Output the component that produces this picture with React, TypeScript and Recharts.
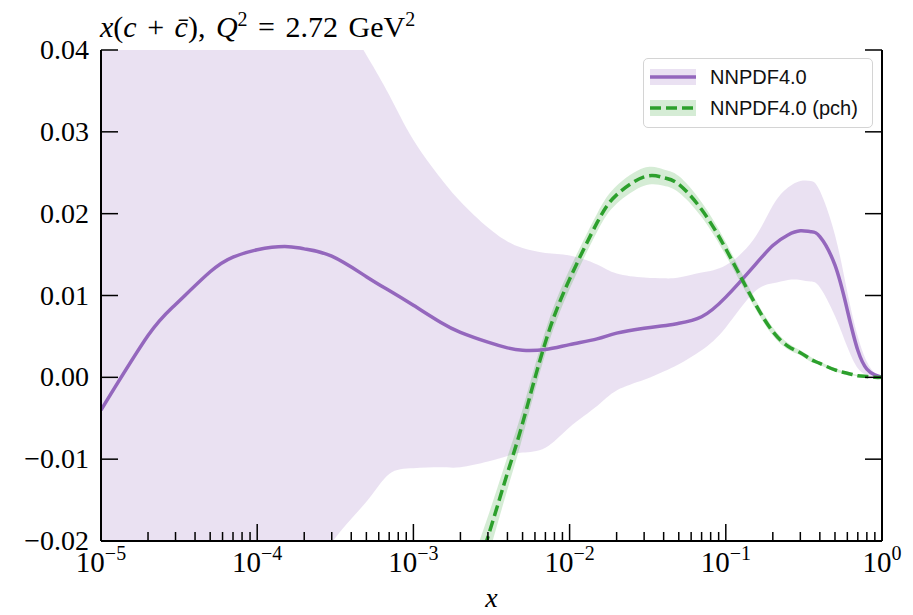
import { ComposedChart, Area, Line, XAxis, YAxis, Legend } from 'recharts';

// x grid shared by every curve (log axis)
const X_VALUES = [
  1e-5, 2e-5, 3e-5, 5e-5, 7e-5,
  1e-4, 1.5e-4, 2e-4, 3e-4, 5e-4, 7e-4,
  1e-3, 1.5e-3, 2e-3, 3e-3, 4e-3, 5e-3, 7e-3,
  1e-2, 1.5e-2, 2e-2, 3e-2, 4e-2, 5e-2, 7e-2,
  0.1, 0.15, 0.2, 0.25, 0.3, 0.35, 0.4, 0.5, 0.6, 0.7, 0.8, 0.9, 1,
];

// NNPDF4.0 central value and band
const PURPLE_CENTRAL = [
  -0.004, 0.0051, 0.0089, 0.0129, 0.0147,
  0.0156, 0.016, 0.0157, 0.0148, 0.0123, 0.0106,
  0.0088, 0.0067, 0.0055, 0.0043, 0.0036, 0.0033, 0.0034,
  0.004, 0.0047, 0.0054, 0.006, 0.0063, 0.0066, 0.0074,
  0.0098, 0.0135, 0.0161, 0.0174, 0.0179, 0.0178, 0.0172, 0.0137, 0.0082, 0.0033, 0.001, 0.0003, 0,
];
const PURPLE_HIGH = [
  0.095, 0.086, 0.08, 0.072, 0.067,
  0.062, 0.056, 0.052, 0.0465, 0.0394, 0.0345,
  0.029, 0.0243, 0.0215, 0.0183, 0.0166, 0.0158, 0.0152,
  0.0149, 0.0138, 0.0127, 0.0122, 0.0121, 0.0122, 0.0128,
  0.0137, 0.0168, 0.021, 0.0232, 0.024, 0.024, 0.0228, 0.0174, 0.0104, 0.005, 0.0019, 0.0005, 0,
];
const PURPLE_LOW = [
  -0.066, -0.058, -0.053, -0.046, -0.041,
  -0.036, -0.03, -0.026, -0.0202, -0.0152, -0.0118,
  -0.0111, -0.011, -0.011, -0.0103, -0.0096, -0.0092, -0.0086,
  -0.0061, -0.0035, -0.0016, -0.0003, 0.0007, 0.0016, 0.0033,
  0.0061, 0.0103, 0.0115, 0.0119, 0.0119, 0.0117, 0.011, 0.0075, 0.0037, 0.0011, 0.0003, 0.0001, 0,
];

// NNPDF4.0 (pch) central value and band
const GREEN_CENTRAL = [
  null, null, null, null, null,
  null, null, null, null, null, null,
  null, null, -0.03, -0.0195, -0.0117, -0.0056, 0.0043,
  0.012, 0.0189, 0.0223, 0.0245, 0.0244, 0.0236, 0.0205,
  0.0157, 0.0094, 0.0056, 0.0038, 0.003, 0.0022, 0.0017, 0.0009, 0.0005, 0.0002, 0.0001, 0, 0,
];
const GREEN_HIGH = [
  null, null, null, null, null,
  null, null, null, null, null, null,
  null, null, -0.0265, -0.017, -0.0097, -0.0039, 0.0057,
  0.0132, 0.02, 0.0234, 0.0256, 0.0254, 0.0246, 0.0214,
  0.0165, 0.01, 0.0061, 0.0042, 0.0033, 0.0025, 0.0019, 0.0011, 0.0006, 0.0003, 0.0001, 0, 0,
];
const GREEN_LOW = [
  null, null, null, null, null,
  null, null, null, null, null, null,
  null, null, -0.0335, -0.022, -0.0137, -0.0073, 0.0029,
  0.0108, 0.0178, 0.0212, 0.0234, 0.0234, 0.0226, 0.0196,
  0.0149, 0.0088, 0.0051, 0.0034, 0.0027, 0.0019, 0.0015, 0.0007, 0.0004, 0.0001, 0.0001, 0, 0,
];

const DECADES = [1e-5, 1e-4, 1e-3, 1e-2, 1e-1, 1];
const MINOR_STEPS = [2, 3, 4, 5, 6, 7, 8, 9];
const Y_TICKS = [-0.02, -0.01, 0, 0.01, 0.02, 0.03, 0.04];

const PURPLE = '#9467bd';
const GREEN = '#2ca02c';
const SERIF = '"Liberation Serif", "DejaVu Serif", serif';
const SANS = '"Liberation Sans", Arial, sans-serif';

const mainRows = X_VALUES.map((x, i) => ({
  x,
  mid: PURPLE_CENTRAL[i],
  band: [PURPLE_LOW[i], PURPLE_HIGH[i]],
}));

const pchRows = X_VALUES.map((x, i) => ({
  x,
  mid: GREEN_CENTRAL[i],
  band: [GREEN_LOW[i], GREEN_HIGH[i]],
})).filter((r) => r.mid !== null);

const xTicks = DECADES.flatMap((d, i) =>
  i < DECADES.length - 1 ? [d, ...MINOR_STEPS.map((m) => d * m)] : [d]
);

const isDecade = (v: number) => {
  const l = Math.log10(v);
  return Math.abs(l - Math.round(l)) < 1e-6;
};

const fmtY = (v: number) => {
  const s = Math.abs(v).toFixed(2);
  return v < -1e-9 ? `\u2212${s}` : s;
};

const XTick = (props: any) => {
  const { x, y, payload } = props;
  const v = payload.value;
  const major = isDecade(v);
  const exp = Math.round(Math.log10(v));
  return (
    <g>
      <line x1={x} x2={x} y1={y} y2={y - (major ? 17 : 9)} stroke="#000" strokeWidth={1.5} />
      {major && (
        <text x={x} y={y + 31} textAnchor="middle" fontFamily={SERIF} fontSize={29} fill="#000">
          10
          <tspan dy={-12} fontSize={20}>
            {exp === 0 ? '0' : `\u2212${-exp}`}
          </tspan>
        </text>
      )}
    </g>
  );
};

const YTickLeft = (props: any) => {
  const { x, y, payload } = props;
  return (
    <g>
      <line x1={x} x2={x + 17} y1={y} y2={y} stroke="#000" strokeWidth={1.5} />
      <text x={x - 12} y={y + 9} textAnchor="end" fontFamily={SERIF} fontSize={28} fill="#000">
        {fmtY(payload.value)}
      </text>
    </g>
  );
};

const YTickRight = (props: any) => {
  const { x, y } = props;
  return <line x1={x} x2={x - 17} y1={y} y2={y} stroke="#000" strokeWidth={1.5} />;
};

const LegendHandle = ({ color, dashed }: { color: string; dashed?: boolean }) => (
  <svg width={46} height={16} style={{ display: 'block' }}>
    <rect x={0} y={0} width={46} height={16} fill={color} fillOpacity={0.2} />
    <line
      x1={0}
      x2={46}
      y1={8}
      y2={8}
      stroke={color}
      strokeWidth={3.5}
      strokeDasharray={dashed ? '11 5' : undefined}
    />
  </svg>
);

const LegendBox = () => (
  <div
    style={{
      width: 230,
      height: 70,
      boxSizing: 'border-box',
      border: '1.5px solid #d4d4d4',
      borderRadius: 5,
      background: 'rgba(255,255,255,0.85)',
      fontFamily: SANS,
      fontSize: 20,
      color: '#111',
      padding: '2px 0 0 6px',
    }}
  >
    {[
      { label: 'NNPDF4.0', color: PURPLE, dashed: false },
      { label: 'NNPDF4.0 (pch)', color: GREEN, dashed: true },
    ].map((e) => (
      <div key={e.label} style={{ display: 'flex', alignItems: 'center', height: 31 }}>
        <LegendHandle color={e.color} dashed={e.dashed} />
        <span style={{ marginLeft: 14, lineHeight: '20px' }}>{e.label}</span>
      </div>
    ))}
  </div>
);

export default function App() {
  return (
    <div style={{ position: 'absolute', left: 0, top: 0, width: 913, height: 615, background: '#fff' }}>
      <ComposedChart width={913} height={615} margin={{ top: 50, right: 0, bottom: 0, left: 0 }}>
        <XAxis
          dataKey="x"
          type="number"
          scale="log"
          domain={[1e-5, 1]}
          allowDataOverflow
          ticks={xTicks}
          interval={0}
          height={74}
          tickSize={0}
          tickMargin={0}
          tickLine={false}
          tick={XTick}
          axisLine={{ stroke: '#000', strokeWidth: 2 }}
          label={{
            value: 'x',
            position: 'insideBottom',
            offset: 8,
            style: { fontFamily: SERIF, fontStyle: 'italic', fontSize: 28, fill: '#000' },
          }}
        />
        <XAxis
          xAxisId="top"
          orientation="top"
          type="number"
          domain={[0, 1]}
          height={0}
          tick={false}
          tickLine={false}
          axisLine={{ stroke: '#000', strokeWidth: 2 }}
        />
        <YAxis
          yAxisId="l"
          type="number"
          domain={[-0.02, 0.04]}
          allowDataOverflow
          ticks={Y_TICKS}
          interval={0}
          width={101}
          tickSize={0}
          tickMargin={0}
          tickLine={false}
          tick={YTickLeft}
          axisLine={{ stroke: '#000', strokeWidth: 2 }}
        />
        <YAxis
          yAxisId="r"
          orientation="right"
          type="number"
          domain={[-0.02, 0.04]}
          allowDataOverflow
          ticks={Y_TICKS}
          interval={0}
          width={31}
          tickSize={0}
          tickMargin={0}
          tickLine={false}
          tick={YTickRight}
          axisLine={{ stroke: '#000', strokeWidth: 2 }}
        />
        <Area
          yAxisId="l"
          data={mainRows}
          dataKey="band"
          type="natural"
          stroke="none"
          fill={PURPLE}
          fillOpacity={0.2}
          isAnimationActive={false}
          legendType="none"
        />
        <Line
          yAxisId="l"
          data={mainRows}
          dataKey="mid"
          type="natural"
          stroke={PURPLE}
          strokeWidth={3.5}
          dot={false}
          activeDot={false}
          isAnimationActive={false}
        />
        <Area
          yAxisId="l"
          data={pchRows}
          dataKey="band"
          type="natural"
          stroke="none"
          fill={GREEN}
          fillOpacity={0.2}
          isAnimationActive={false}
          legendType="none"
        />
        <Line
          yAxisId="l"
          data={pchRows}
          dataKey="mid"
          type="natural"
          stroke={GREEN}
          strokeWidth={3.5}
          strokeDasharray="11 5"
          dot={false}
          activeDot={false}
          isAnimationActive={false}
        />
        <Legend
          layout="vertical"
          align="center"
          verticalAlign="middle"
          content={<LegendBox />}
          wrapperStyle={{ top: 58, left: 643, width: 230, height: 70 }}
        />
      </ComposedChart>
      <div
        style={{
          position: 'absolute',
          left: 100,
          top: 10,
          fontFamily: SERIF,
          fontSize: 30,
          lineHeight: '34px',
          wordSpacing: 3,
          whiteSpace: 'nowrap',
          color: '#000',
        }}
      >
        <i>x</i>(<i>c</i> + <i>c&#772;</i>), <i>Q</i>
        <sup style={{ fontSize: 20, verticalAlign: 'super', lineHeight: 0 }}>2</sup> = 2.72 GeV
        <sup style={{ fontSize: 20, verticalAlign: 'super', lineHeight: 0 }}>2</sup>
      </div>
    </div>
  );
}
